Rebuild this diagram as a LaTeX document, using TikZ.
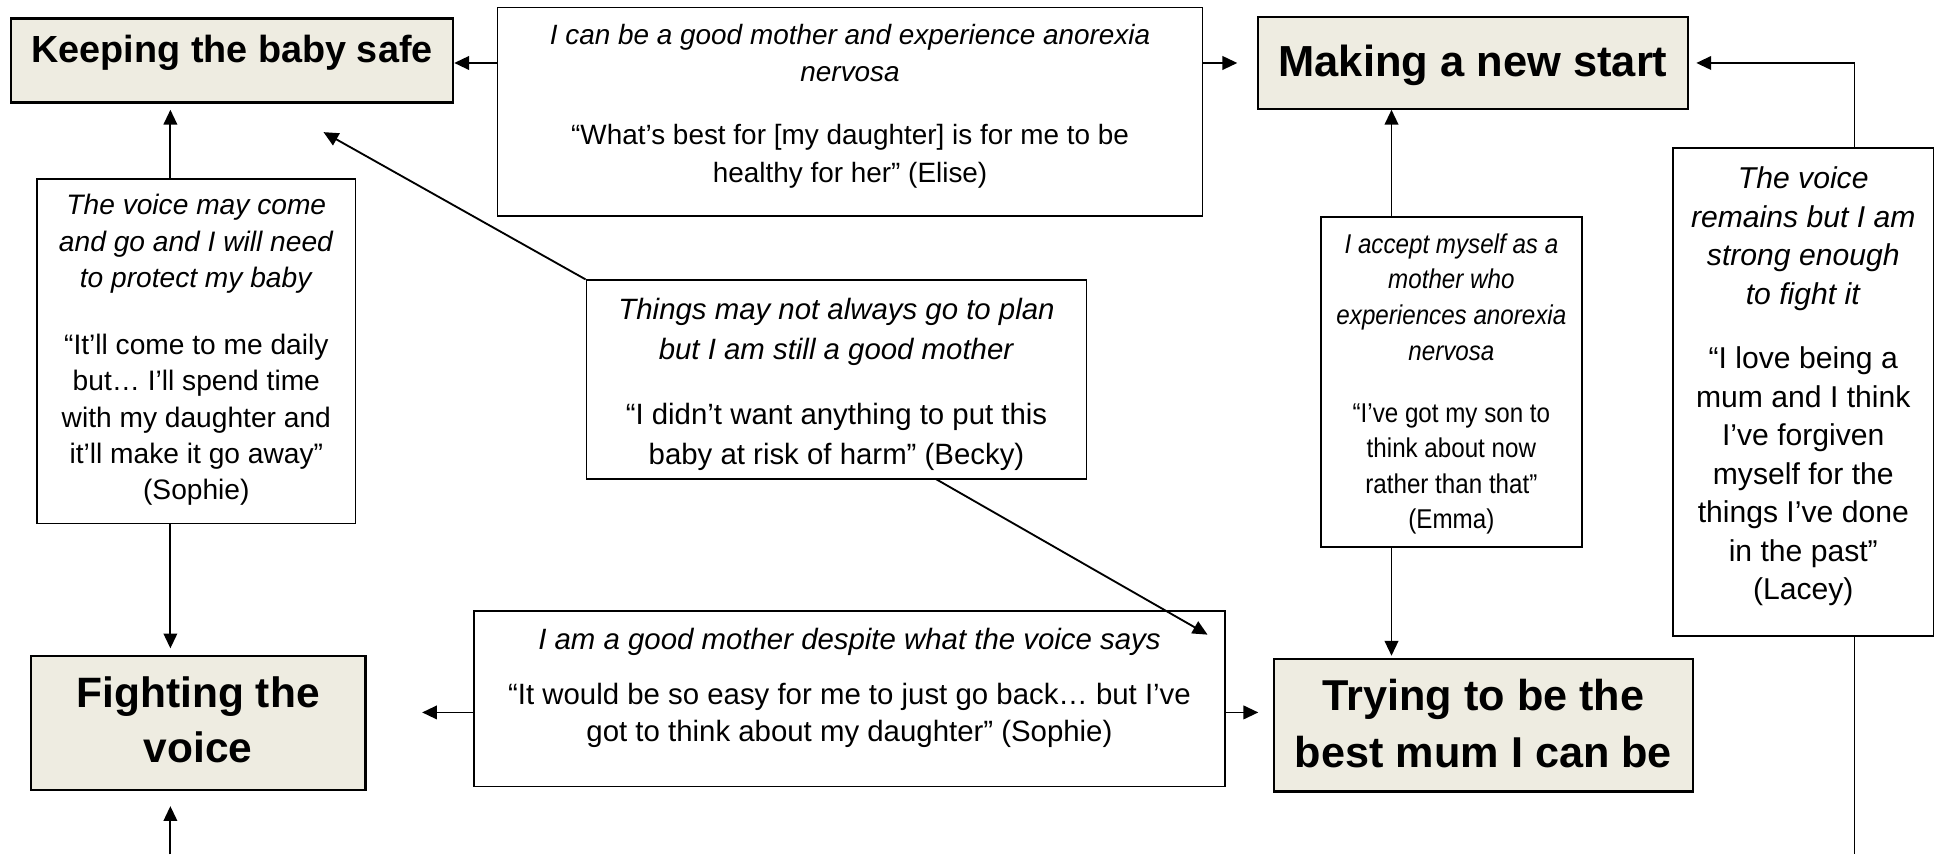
\documentclass[tikz,border=0pt]{standalone}
\usepackage{fontspec}
\setmainfont{Liberation Sans}
\newfontfamily\condfont[FakeStretch=0.89]{Liberation Sans}
\usetikzlibrary{arrows.meta}
\definecolor{headfill}{HTML}{EEECE1}
\begin{document}
\begin{tikzpicture}[x=0.5pt,y=-0.5pt,
  box/.style={draw, line width=0.7pt, inner sep=0pt},
  headbox/.style={draw, line width=0.9pt, fill=headfill, inner sep=0pt},
  body/.style={align=center, inner sep=0pt},
  heading/.style={align=center, inner sep=0pt},
  arr/.style={line width=0.75pt, -{Triangle[length=6pt,width=5.5pt]}},
  plain/.style={line width=0.75pt}]
\useasboundingbox (0,0) rectangle (1568,692);

% boxes
\node[headbox, minimum width=179pt, minimum height=34pt] (keep) at (188,49) {};
\node[box, minimum width=285.5pt, minimum height=84.5pt] (elise) at (688.5,90.5) {};
\node[headbox, minimum width=174pt, minimum height=37pt] (make) at (1193,51) {};
\node[box, minimum width=129pt, minimum height=139.5pt] (voice) at (159,284.5) {};
\node[box, minimum width=202.5pt, minimum height=80.5pt] (things) at (677.5,307.5) {};
\node[box, minimum width=105.5pt, minimum height=133.5pt] (emma) at (1175.5,309.5) {};
\node[box, minimum width=105.5pt, minimum height=197.5pt] (lacey) at (1460.5,317.5) {};
\node[headbox, minimum width=135.5pt, minimum height=54.5pt] (fight) at (160.5,585.5) {};
\node[box, minimum width=304pt, minimum height=71pt] (despite) at (688,566) {};
\node[headbox, minimum width=169.5pt, minimum height=53.5pt] (trying) at (1201.5,587.5) {};

% headings
\node[heading, anchor=base, font=\bfseries\fontsize{15.3}{18}\selectfont] (keeptxt) at (188,51) {Keeping the baby safe};
\node[heading, anchor=base, font=\bfseries\fontsize{17.6}{21}\selectfont] (maketxt) at (1193,62) {Making a new start};
\node[heading, font=\bfseries\fontsize{17.2}{22}\selectfont] (fighttxt) at (160.5,583) {Fighting the\\voice};
\node[heading, font=\bfseries\fontsize{17.5}{23}\selectfont] (tryingtxt) at (1201.5,586) {Trying to be the\\best mum I can be};

% body texts
\node[body, font=\fontsize{11.3}{15.25}\selectfont] (elisetxt) at (688.5,86)
  {\textit{I can be a good mother and experience anorexia}\\
   \textit{nervosa}\\[10.25pt]
   “What’s best for [my daughter] is for me to be\\
   healthy for her” (Elise)};
\node[body, font=\fontsize{11.4}{14.75}\selectfont] (voicetxt) at (159,283.5)
  {\textit{The voice may come}\\
   \textit{and go and I will need}\\
   \textit{to protect my baby}\\[12.25pt]
   “It’ll come to me daily\\
   but… I’ll spend time\\
   with my daughter and\\
   it’ll make it go away”\\
   (Sophie)};
\node[body, font=\fontsize{11.9}{16.25}\selectfont] (thingstxt) at (677.5,311)
  {\textit{Things may not always go to plan}\\
   \textit{but I am still a good mother}\\[10pt]
   “I didn’t want anything to put this\\
   baby at risk of harm” (Becky)};
\node[body, font=\condfont\fontsize{11}{14.4}\selectfont] (emmatxt) at (1175.5,311)
  {\textit{I accept myself as a}\\
   \textit{mother who}\\
   \textit{experiences anorexia}\\
   \textit{nervosa}\\[10.7pt]
   “I’ve got my son to\\
   think about now\\
   rather than that”\\
   (Emma)};
\node[body, font=\fontsize{12.2}{15.6}\selectfont] (laceytxt) at (1460.5,313)
  {\textit{The voice}\\
   \textit{remains but I am}\\
   \textit{strong enough}\\
   \textit{to fight it}\\[10.5pt]
   “I love being a\\
   mum and I think\\
   I’ve forgiven\\
   myself for the\\
   things I’ve done\\
   in the past”\\
   (Lacey)};
\node[body, font=\fontsize{11.9}{14.75}\selectfont] (despitetxt) at (688,557)
  {\textit{I am a good mother despite what the voice says}\\[7.75pt]
   “It would be so easy for me to just go back… but I’ve\\
   got to think about my daughter” (Sophie)};

% helper coordinates
\coordinate (vx) at (138,0);
\coordinate (ex) at (1127,0);
\coordinate (lx) at (1502,0);
\coordinate (dy) at (0,577);
\coordinate (kt) at (262,107);
\coordinate (tb) at (758,388);
\coordinate (dt) at (978,514);
\coordinate (bottomL) at (138,692);
\coordinate (bottomR) at (1502,692);

% connectors
\draw[arr] (elise.west |- make.center) -- (keep.east |- make.center);
\draw[arr, shorten >=8pt] (elise.east |- make.center) -- (make.west);
\draw[arr, shorten >=3pt] (lacey.north -| lx) |- (make.east);
\draw[plain] (lacey.south -| lx) -- (bottomR);
\draw[arr] (emma.north -| ex) -- (make.south -| ex);
\draw[arr, shorten >=1pt] (emma.south -| ex) -- (trying.north -| ex);
\draw[arr, shorten >=2.5pt] (voice.north -| vx) -- (keep.south -| vx);
\draw[arr, shorten >=2.5pt] (voice.south -| vx) -- (fight.north -| vx);
\draw[arr, shorten >=6pt] (bottomL) -- (fight.south -| vx);
\draw[arr, shorten >=22.5pt] (despite.west |- dy) -- (fight.east |- dy);
\draw[arr, shorten >=6pt] (despite.east |- dy) -- (trying.west |- dy);
\draw[arr] (things.north west) -- (kt);
\draw[arr] (tb) -- (dt);
\end{tikzpicture}
\end{document}
